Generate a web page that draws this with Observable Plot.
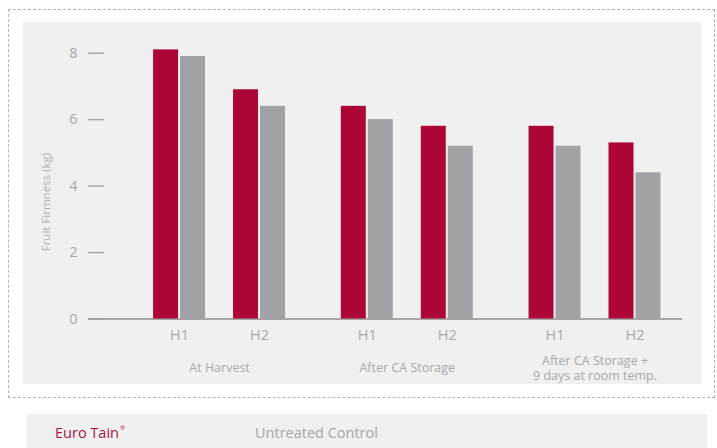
<!DOCTYPE html>
<html>
<head>
<meta charset="utf-8">
<script src="https://cdn.jsdelivr.net/npm/d3@7"></script>
<script src="https://cdn.jsdelivr.net/npm/@observablehq/plot@0.6"></script>
<style>
  html, body { margin: 0; padding: 0; background: #ffffff; width: 717px; height: 448px; overflow: hidden; font-family: "Open Sans", sans-serif; }
  #outer { position: absolute; left: 8px; top: 9px; width: 707px; height: 389px; box-sizing: border-box; border: 1px dashed #b4b4b4; }
  #panel { position: absolute; left: 23px; top: 22px; width: 678px; height: 362px; background: #f0f0f0; }
  #panel svg { display: block; }
  #legend { position: absolute; left: 27px; top: 414px; width: 680px; height: 40px; background: #f0f0f0; }
  .lg { position: absolute; top: 9px; font-size: 14.5px; white-space: nowrap; }
  .lg sup { font-size: 6px; vertical-align: top; position: relative; top: 1px; margin-left: 1px; }
</style>
</head>
<body>
<div id="outer"></div>
<div id="panel"></div>
<div id="legend"></div>
<script>
// ---- data ----
const stages = ["At Harvest", "After CA Storage", "After CA Storage +\n9 days at room temp."];
const harvests = ["H1", "H2"];
const treatments = ["Euro Tain", "Untreated Control"];
// values in order: stage x harvest
const euroTain = [8.1, 6.9, 6.4, 5.8, 5.8, 5.3];
const control  = [7.9, 6.4, 6.0, 5.2, 5.2, 4.4];
const yTicks = [0, 2, 4, 6, 8];
const yLabel = "Fruit Firmness (kg)";
const colors = ["#ab0635", "#a1a2a6"];

const rows = [];
stages.forEach((s, i) => harvests.forEach((h, j) => {
  const k = i * harvests.length + j;
  rows.push({stage: s, harvest: h, treatment: treatments[0], value: euroTain[k]});
  rows.push({stage: s, harvest: h, treatment: treatments[1], value: control[k]});
}));

const textGray = "#a9a9a9";
const axisShift = -51; // y axis sits left of the first group

const chart = Plot.plot({
  width: 678,
  height: 362,
  marginLeft: 65,
  marginRight: 19,
  marginTop: 30.7,
  marginBottom: 65.5,
  style: {background: "transparent", fontFamily: "'Open Sans', sans-serif", overflow: "visible"},
  fx: {domain: stages, paddingInner: 0.148, paddingOuter: 0.156, align: 0.872, round: false, axis: null, label: null},
  x: {domain: harvests, padding: 0, round: false, axis: null, label: null},
  y: {domain: [0, 8], axis: null, label: null},
  marks: [
    Plot.ruleY([0], {stroke: "#a6a6a6", strokeWidth: 2, shapeRendering: "crispEdges",
      insetLeft: axisShift, insetRight: -7.5}),
    Plot.barY(rows.filter(d => d.treatment === treatments[0]),
      {fx: "stage", x: "harvest", y: "value", fill: colors[0], insetLeft: 14, insetRight: 41}),
    Plot.barY(rows.filter(d => d.treatment === treatments[1]),
      {fx: "stage", x: "harvest", y: "value", fill: colors[1], insetLeft: 41, insetRight: 14}),
    Plot.axisX({tickSize: 0, tickPadding: 10.5, fontSize: 14.5, fill: textGray, label: null}),
    Plot.text(stages, {fx: d => d, text: d => d, frameAnchor: "bottom", dy: 48.5,
      lineAnchor: "middle", lineHeight: 1.2, fontSize: 12.5, fill: textGray}),
    Plot.axisY({ticks: yTicks, tickSize: -16, tickPadding: 27, fontSize: 14.5, dx: axisShift,
      stroke: "#a3a3a3", strokeWidth: 1.4, fill: textGray, label: null}),
    Plot.text([yLabel], {fx: () => stages[0], text: d => d, frameAnchor: "left", textAnchor: "middle",
      dx: axisShift - 42, dy: 16, rotate: -90, fontSize: 11.5, fill: "#b0b0b0"})
  ]
});
document.getElementById("panel").appendChild(chart);

const legend = document.getElementById("legend");
const l1 = document.createElement("div");
l1.className = "lg"; l1.style.left = "28px"; l1.style.color = "#a8123f";
l1.innerHTML = treatments[0] + "<sup>®</sup>";
const l2 = document.createElement("div");
l2.className = "lg"; l2.style.left = "228px"; l2.style.color = "#a5a5a5";
l2.textContent = treatments[1];
legend.appendChild(l1); legend.appendChild(l2);
</script>
</body>
</html>
